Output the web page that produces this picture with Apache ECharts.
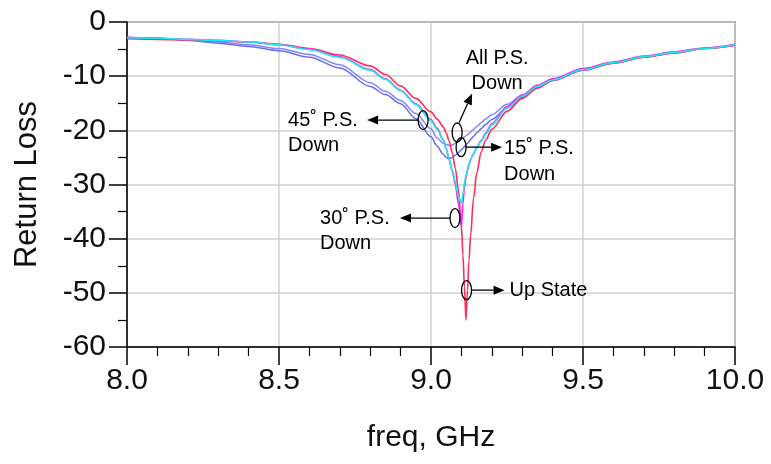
<!DOCTYPE html>
<html>
<head>
<meta charset="utf-8">
<script src="https://cdn.jsdelivr.net/npm/echarts@6/dist/echarts.min.js"></script>
<style>
  html, body { margin: 0; padding: 0; background: #fff; }
  #chart { width: 771px; height: 464px; }
</style>
</head>
<body>
<div id="chart"></div>
<script>
// Frequency samples (GHz), denser around the resonance
const freq = [8.0, 8.1, 8.2, 8.3, 8.4, 8.5, 8.6, 8.7, 8.8, 8.85, 8.9, 8.95, 9.0, 9.02, 9.04, 9.05, 9.06, 9.07,
  9.08, 9.09, 9.1, 9.105, 9.11, 9.115, 9.12, 9.125, 9.13, 9.14, 9.15, 9.165, 9.18, 9.2, 9.25, 9.3, 9.35, 9.4,
  9.5, 9.6, 9.7, 9.8, 9.9, 10.0];

// Return loss (dB) for each switch state
const upState = [-3.1, -3.2, -3.3, -3.5, -3.7, -4.1, -4.9, -6.1, -8.1, -9.7, -11.8, -14.1, -16.6, -17.9, -19.3, -20.5, -22.0, -24.2,
  -27.0, -31.0, -37.5, -43.0, -49.0, -55.0, -49.5, -44.0, -39.5, -32.5, -28.0, -24.0, -21.8, -19.8, -16.5, -14.1, -12.2, -10.8,
  -8.9, -7.6, -6.5, -5.7, -4.9, -4.3];
const down15 = [-2.9, -3.0, -3.2, -3.4, -3.7, -4.2, -5.1, -6.5, -8.9, -10.6, -12.7, -15.2, -18.2, -19.8, -21.8, -23.5, -25.5, -27.3,
  -29.5, -32.2, -33.5, -31.8, -29.8, -28.3, -27.2, -26.2, -25.4, -24.3, -23.3, -22.0, -20.7, -19.0, -15.9, -13.7, -11.9, -10.7,
  -8.8, -7.5, -6.4, -5.6, -4.9, -4.2];
const down30 = [-2.9, -3.0, -3.2, -3.4, -3.7, -4.2, -5.0, -6.4, -8.8, -10.5, -12.6, -15.1, -18.0, -19.6, -21.7, -23.4, -25.5, -27.5,
  -30.0, -33.5, -37.8, -33.5, -30.5, -28.7, -27.4, -26.3, -25.4, -24.3, -23.2, -21.9, -20.5, -18.8, -15.6, -13.5, -11.7, -10.5,
  -8.6, -7.4, -6.3, -5.5, -4.8, -4.1];
const down45 = [-2.8, -3.0, -3.4, -3.9, -4.5, -5.3, -6.5, -8.5, -11.9, -13.4, -15.1, -17.8, -21.2, -22.9, -24.4, -25.0, -25.2, -25.0,
  -24.6, -24.1, -23.6, -23.3, -23.0, -22.7, -22.4, -22.1, -21.7, -21.1, -20.5, -19.7, -18.9, -18.0, -15.9, -13.9, -12.1, -10.8,
  -8.9, -7.6, -6.5, -5.7, -4.9, -4.3];
const downAll = [-2.8, -3.0, -3.3, -3.7, -4.2, -4.9, -6.0, -7.9, -11.2, -12.8, -14.5, -16.9, -19.7, -21.4, -22.4, -22.6, -22.8, -22.7,
  -22.4, -22.0, -21.6, -21.4, -21.2, -21.0, -20.8, -20.6, -20.3, -19.8, -19.3, -18.6, -17.9, -17.1, -15.2, -13.5, -11.9, -10.6,
  -8.8, -7.5, -6.4, -5.6, -4.9, -4.2];

// Callouts: anchor point on the curves (freq, dB) and their text
const callouts = [
  { at: [8.974, -18.1], lines: ['45˚ P.S.', 'Down'], arrow: [[-4.5, 0], [-56, 0]], text: [-135, 0], align: 'left', lh: 25 },
  { at: [9.079, -36.2], lines: ['30˚ P.S.', 'Down'], arrow: [[-4.5, 0], [-55, 0]], text: [-135, 0], align: 'left', lh: 25 },
  { at: [9.117, -49.5], lines: ['Up State'], arrow: [[4.5, 0], [38, 0]], text: [43, 0], align: 'left', lh: 25 },
  { at: [9.099, -23.1], lines: ['15˚ P.S.', 'Down'], arrow: [[4.5, 0], [41, 0]], text: [43, 1], align: 'left', lh: 26 },
  { at: [9.086, -20.4], lines: ['All P.S.', 'Down'], arrow: [[2, -10], [15, -39]], text: [40, -74], align: 'center', lh: 25 }
];

const FONT = '"Liberation Sans", Arial, Helvetica, sans-serif';

function pairs(vals) {
  return freq.map((f, i) => [f, vals[i]]);
}

function lineSeries(name, vals, color, width) {
  return {
    name: name,
    type: 'line',
    data: pairs(vals),
    showSymbol: false,
    smooth: 0.3,
    smoothMonotone: 'x',
    lineStyle: { color: color, width: width },
    itemStyle: { color: color },
    emphasis: { disabled: true },
    silent: true
  };
}

const chart = echarts.init(document.getElementById('chart'), null, { renderer: 'canvas' });

chart.setOption({
  animation: false,
  backgroundColor: '#fff',
  textStyle: { fontFamily: FONT },
  grid: {
    left: 127, right: 36, top: 22, bottom: 117,
    show: true, borderColor: '#555', borderWidth: 1.5, backgroundColor: '#fff'
  },
  xAxis: {
    type: 'value',
    min: 8, max: 10, interval: 0.5,
    name: 'freq, GHz',
    nameLocation: 'middle',
    nameGap: 76,
    nameTextStyle: { fontSize: 30, color: '#111', fontFamily: FONT },
    axisLine: { show: true, onZero: false, lineStyle: { color: '#000', width: 1.5 } },
    axisTick: { show: true, length: 18, lineStyle: { color: '#000', width: 1.5 } },
    minorTick: { show: true, splitNumber: 5, length: 9, lineStyle: { color: '#000', width: 1.2 } },
    splitLine: { show: true, lineStyle: { color: '#cfcfcf', width: 1.5 } },
    axisLabel: {
      fontSize: 30, color: '#111', margin: 19, fontFamily: FONT,
      formatter: v => v.toFixed(1)
    }
  },
  yAxis: {
    type: 'value',
    min: -60, max: 0, interval: 10,
    name: 'Return Loss',
    nameLocation: 'middle',
    nameGap: 84,
    nameTextStyle: { fontSize: 31, color: '#111', fontFamily: FONT },
    axisLine: { show: true, onZero: false, lineStyle: { color: '#000', width: 1.5 } },
    axisTick: { show: true, length: 18, lineStyle: { color: '#000', width: 1.5 } },
    minorTick: { show: true, splitNumber: 2, length: 9, lineStyle: { color: '#000', width: 1.2 } },
    splitLine: { show: true, lineStyle: { color: '#cfcfcf', width: 1.5 } },
    axisLabel: { fontSize: 30, color: '#111', margin: 21, fontFamily: FONT }
  },
  series: [
    lineSeries('45° P.S. Down', down45, '#6a6af0', 1.5),
    lineSeries('All P.S. Down', downAll, '#8484ff', 1.5),
    lineSeries('Up State', upState, '#ff2d5a', 1.6),
    lineSeries('30° P.S. Down', down30, '#ee22ee', 1.6),
    lineSeries('15° P.S. Down', down15, '#1ee6f2', 1.6)
  ]
});

// Build callout ellipses, arrows and text at the anchor points
const elements = [];
callouts.forEach(c => {
  const p = chart.convertToPixel({ xAxisIndex: 0, yAxisIndex: 0 }, c.at);
  const cx = p[0], cy = p[1];
  elements.push({
    type: 'ellipse', silent: true, z: 100,
    shape: { cx: cx, cy: cy, rx: 5, ry: 9.5 },
    style: { fill: 'none', stroke: '#000', lineWidth: 1.3 }
  });
  const x1 = cx + c.arrow[0][0], y1 = cy + c.arrow[0][1];
  const x2 = cx + c.arrow[1][0], y2 = cy + c.arrow[1][1];
  const dx = x2 - x1, dy = y2 - y1, len = Math.hypot(dx, dy);
  const ux = dx / len, uy = dy / len;
  const bx = x2 - ux * 11, by = y2 - uy * 11;
  elements.push({
    type: 'line', silent: true, z: 100,
    shape: { x1: x1, y1: y1, x2: bx, y2: by },
    style: { stroke: '#000', lineWidth: 1.3 }
  });
  elements.push({
    type: 'polygon', silent: true, z: 100,
    shape: { points: [[x2, y2], [bx - uy * 4.5, by + ux * 4.5], [bx + uy * 4.5, by - ux * 4.5]] },
    style: { fill: '#000' }
  });
  c.lines.forEach((t, i) => {
    elements.push({
      type: 'text', silent: true, z: 100,
      x: cx + c.text[0], y: cy + c.text[1] + i * c.lh,
      style: {
        text: t, fill: '#000', font: '20px ' + FONT,
        align: c.align, verticalAlign: 'middle'
      }
    });
  });
});
chart.setOption({ graphic: { elements: elements } });
</script>
</body>
</html>
